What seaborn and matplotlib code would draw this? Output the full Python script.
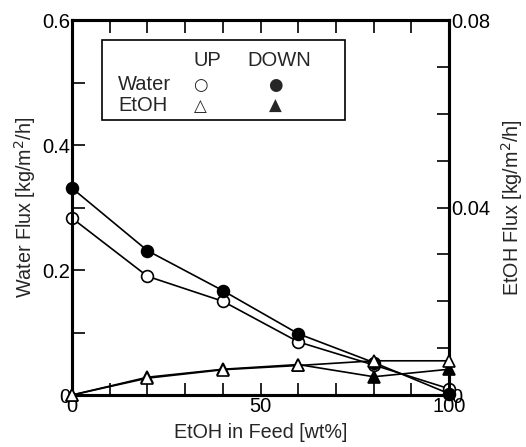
import matplotlib
matplotlib.use("Agg")
import matplotlib.pyplot as plt
from matplotlib.ticker import MultipleLocator, FuncFormatter
import seaborn as sns

# values
etoh_feed = [0, 20, 40, 60, 80, 100]
water_up = [0.283, 0.190, 0.150, 0.085, 0.048, 0.010]
water_down = [0.331, 0.231, 0.167, 0.098, 0.052, 0.002]
etoh_up = [0.0, 0.0036, 0.0054, 0.0063, 0.0073, 0.0073]
etoh_down = [0.0, 0.0038, 0.0055, 0.0065, 0.0039, 0.0055]

sns.set_style("ticks")
plt.rcParams["font.family"] = ["Liberation Sans", "DejaVu Sans"]

fig = plt.figure(figsize=(5.26, 4.47), dpi=100)
ax = fig.add_axes([0.137, 0.1163, 0.717, 0.8387])
ax2 = ax.twinx()

line_kw = dict(color="black", linewidth=1.2, markersize=8.5, markeredgewidth=1.2,
               markeredgecolor="black", clip_on=False)

sns.lineplot(x=etoh_feed, y=water_up, ax=ax, marker="o", markerfacecolor="white", zorder=5, **line_kw)
sns.lineplot(x=etoh_feed, y=water_down, ax=ax, marker="o", markerfacecolor="black", zorder=5, **line_kw)
# filled triangles first so the open ones stay visible where they coincide
sns.lineplot(x=etoh_feed, y=etoh_down, ax=ax2, marker="^", markerfacecolor="black", zorder=5, **line_kw)
sns.lineplot(x=etoh_feed, y=etoh_up, ax=ax2, marker="^", markerfacecolor="white", zorder=6, **line_kw)

ax.set_xlim(0, 100)
ax.set_ylim(0, 0.6)
ax2.set_ylim(0, 0.08)

ax.xaxis.set_major_locator(MultipleLocator(50))
ax.xaxis.set_minor_locator(MultipleLocator(10))
ax.yaxis.set_major_locator(MultipleLocator(0.2))
ax.yaxis.set_minor_locator(MultipleLocator(0.1))
ax2.yaxis.set_major_locator(MultipleLocator(0.04))
ax2.yaxis.set_minor_locator(MultipleLocator(0.01))

fmt = FuncFormatter(lambda v, p: f"{v:g}")
ax.xaxis.set_major_formatter(fmt)
ax.yaxis.set_major_formatter(fmt)
ax2.yaxis.set_major_formatter(fmt)

for a in (ax, ax2):
    a.tick_params(which="both", direction="in", length=9, width=1.2,
                  labelsize=14.5, colors="black", pad=1.5)
    for s in a.spines.values():
        s.set_linewidth(2.2)
        s.set_color("black")
        s.set_visible(True)
    a.grid(False)
ax.tick_params(which="both", top=True, right=False)
ax2.tick_params(which="both", left=False, right=True, top=False)

ax.set_xlabel("EtOH in Feed [wt%]", fontsize=14.2, labelpad=5)
ax.set_ylabel("Water Flux [kg/m$^2$/h]", fontsize=14.2, labelpad=3)
ax2.set_ylabel("EtOH Flux [kg/m$^2$/h]", fontsize=14.2, labelpad=6)

# legend box laid out like the original figure
box = plt.Rectangle((0.08, 0.733), 0.645, 0.213, transform=ax.transAxes,
                    facecolor="white", edgecolor="black", linewidth=1.2, zorder=7)
ax2.add_patch(box)
fs = 14.5
txt = dict(transform=ax.transAxes, fontsize=fs, va="center", zorder=8)
ax2.text(0.358, 0.893, "UP", ha="center", **txt)
ax2.text(0.549, 0.893, "DOWN", ha="center", **txt)
ax2.text(0.122, 0.827, "Water", ha="left", **txt)
ax2.text(0.122, 0.771, "EtOH", ha="left", **txt)
sym = dict(transform=ax.transAxes, fontsize=12, ha="center", va="center", zorder=8,
           family="DejaVu Sans")
ax2.text(0.34, 0.827, "\u25CB", **sym)
ax2.text(0.538, 0.827, "\u25CF", **sym)
ax2.text(0.34, 0.771, "\u25B3", **sym)
ax2.text(0.538, 0.771, "\u25B2", **sym)

fig.savefig("out.png", dpi=100)
